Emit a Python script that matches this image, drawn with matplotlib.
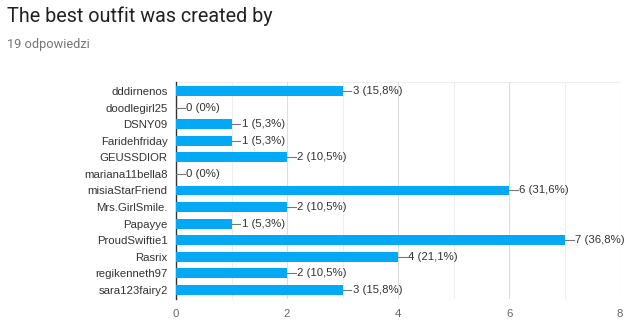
import matplotlib.pyplot as plt
import numpy as np

# dane
names = ["dddirnenos", "doodlegirl25", "DSNY09", "Faridehfriday", "GEUSSDIOR",
         "mariana11bella8", "misiaStarFriend", "Mrs.GirlSmile.", "Papayye",
         "ProudSwiftie1", "Rasrix", "regikenneth97", "sara123fairy2"]
votes = [3, 0, 1, 1, 2, 0, 6, 2, 1, 7, 4, 2, 3]
labels = ["3 (15,8%)", "0 (0%)", "1 (5,3%)", "1 (5,3%)", "2 (10,5%)", "0 (0%)",
          "6 (31,6%)", "2 (10,5%)", "1 (5,3%)", "7 (36,8%)", "4 (21,1%)",
          "2 (10,5%)", "3 (15,8%)"]
xticks = [0, 2, 4, 6, 8]

plt.rcParams['font.family'] = ['Liberation Sans', 'DejaVu Sans']

fig = plt.figure(figsize=(6.4, 3.27), dpi=100)
ax = fig.add_axes([0.275, 0.086, 0.694, 0.663])

y = np.arange(len(names))
ax.barh(y, votes, height=0.6, color="#03A9F4", linewidth=0, zorder=3)

# linie łączące + etykiety
for yi, v, lab in zip(y, votes, labels):
    ax.plot([v, v + 0.16], [yi, yi], color="#777777", linewidth=0.8, zorder=3)
    ax.text(v + 0.18, yi, lab, va="center", ha="left", fontsize=8.2, color="#333333")

ax.set_xlim(0, 8)
ax.set_ylim(12.55, -0.55)
ax.set_yticks(y)
ax.set_yticklabels(names, fontsize=8.2, color="#333333")
ax.set_xticks(xticks)
ax.set_xticklabels([str(t) for t in xticks], fontsize=8.2, color="#666666")
ax.set_xticks(range(1, 8, 2), minor=True)

ax.grid(True, axis="x", which="major", color="#DDDDDD", linewidth=0.8, zorder=0)
ax.grid(True, axis="x", which="minor", color="#EEEEEE", linewidth=0.8, zorder=0)
ax.tick_params(axis="both", which="both", length=0)
ax.tick_params(axis="x", pad=7)
ax.tick_params(axis="y", pad=6)
for s in ["top", "right", "bottom"]:
    ax.spines[s].set_visible(False)
ax.spines["left"].set_color("#333333")
ax.spines["left"].set_linewidth(1)
ax.axhline(-0.55, color="#EEEEEE", linewidth=0.8, zorder=0)
ax.axhline(12.55, color="#EEEEEE", linewidth=0.8, zorder=0)

fig.text(0.011, 0.95, "The best outfit was created by", fontsize=14.2, color="#212121",
         family=["Roboto", "DejaVu Sans"], va="center")
fig.text(0.011, 0.865, "19 odpowiedzi", fontsize=9.2, color="#757575",
         family=["Roboto", "DejaVu Sans"], va="center")

fig.savefig("out.png", dpi=100)
